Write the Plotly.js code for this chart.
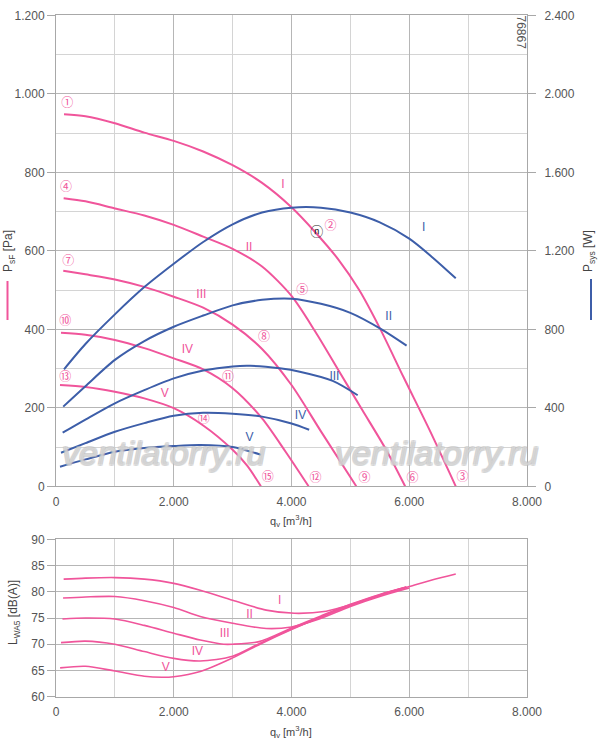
<!DOCTYPE html>
<html>
<head>
<meta charset="utf-8">
<script src="https://cdn.plot.ly/plotly-3.0.1.min.js"></script>
<style>
  body { margin: 0; background: #fff; }
  #chart { width: 600px; height: 747px; }
</style>
</head>
<body>
<div id="chart"></div>
<script>
// speed steps
var speeds = ['I', 'II', 'III', 'IV', 'V'];

// static pressure psF [Pa] vs flow qv [m3/h]
var pressQ = [
  [136, 500, 1000, 1500, 2000, 2500, 3000, 3500, 4000, 4400, 4800, 5150, 5500, 5900, 6340, 6790],
  [130, 500, 1000, 1500, 2000, 2500, 3000, 3500, 4000, 4400, 4800, 5200, 5600, 5930],
  [123, 500, 1000, 1500, 2000, 2500, 3000, 3500, 4000, 4500, 5100],
  [85, 500, 1000, 1500, 2000, 2500, 3000, 3500, 3900, 4290],
  [68, 500, 1000, 1500, 2000, 2500, 3000, 3250, 3480]
];
var pressPa = [
  [948, 943, 925, 901, 880, 853, 818, 773, 711, 648, 577, 500, 403, 279, 145, 0],
  [734, 726, 708, 690, 666, 636, 605, 560, 485, 395, 295, 195, 95, 0],
  [549, 540, 527, 508, 483, 455, 412, 350, 258, 140, 0],
  [391, 386, 373, 352, 326, 298, 250, 173, 88, 0],
  [258, 253, 241, 224, 199, 155, 93, 52, 0]
];

// power input Psys [W]
var powQ = [
  [136, 500, 1000, 1500, 2000, 2500, 3000, 3500, 4000, 4500, 5000, 5500, 6000, 6400, 6790],
  [123, 500, 1000, 1500, 2000, 2500, 3000, 3500, 4000, 4500, 5000, 5530, 5955],
  [113, 500, 1000, 1500, 2000, 2500, 3000, 3300, 3800, 4140, 4700, 5124],
  [85, 500, 1000, 1500, 2000, 2500, 3000, 3500, 4000, 4300],
  [68, 500, 1000, 1500, 2000, 2450, 3000, 3485]
];
var powW = [
  [596, 725, 876, 1015, 1134, 1245, 1335, 1395, 1420, 1420, 1395, 1345, 1262, 1165, 1060],
  [406, 510, 644, 740, 813, 870, 922, 950, 956, 930, 884, 800, 717],
  [273, 340, 423, 490, 550, 590, 611, 614, 601, 584, 537, 464],
  [171, 220, 278, 322, 360, 375, 370, 355, 320, 288],
  [100, 137, 176, 195, 205, 210, 200, 160]
];

// sound power LWA5 [dB(A)]
var noiseQ = [
  [130, 500, 1000, 1500, 2000, 2450, 3000, 3570, 4050, 4590, 5000, 5500, 6000, 6400, 6790],
  [120, 500, 1000, 1500, 2000, 2450, 3000, 3570, 4000, 4420, 5000, 5500, 6000],
  [110, 500, 1000, 1500, 2000, 2450, 2850, 3000, 3450, 4000, 4500, 5000, 5500, 5950],
  [85, 500, 1000, 1500, 2000, 2450, 3000, 3450, 4000, 4500, 5000, 5500, 5950],
  [70, 500, 1000, 1500, 1800, 2000, 2450, 3000, 3500, 4000, 4500, 5000, 5500, 5950]
];
var noiseDb = [
  [82.4, 82.6, 82.7, 82.4, 81.6, 80.3, 78.4, 76.5, 75.9, 76.3, 77.5, 79.4, 81.0, 82.3, 83.4],
  [78.8, 79.0, 79.1, 78.3, 77.0, 75.3, 74.0, 73.0, 73.3, 74.6, 77.2, 79.1, 80.7],
  [74.8, 75.0, 74.8, 73.6, 72.1, 70.8, 70.0, 70.0, 70.5, 73.1, 75.4, 77.6, 79.5, 80.9],
  [70.3, 70.6, 70.0, 68.6, 67.3, 66.8, 67.7, 70.1, 72.9, 75.2, 77.5, 79.4, 80.9],
  [65.5, 65.8, 64.9, 63.9, 63.7, 63.8, 64.8, 67.4, 70.2, 72.8, 75.2, 77.4, 79.3, 80.8]
];

// operating point markers (circled numbers)
var opText = ['①', '②', '③', '④', '⑤', '⑥', '⑦', '⑧', '⑨', '⑩', '⑪', '⑫', '⑬', '⑭', '⑮'];
var opQ = [192, 4661, 6904, 170, 4182, 6056, 208, 3531, 5238, 158, 2920, 4407, 158, 2509, 3598];
var opPa = [974, 661, 20, 759, 498, 18, 571, 379, 18, 418, 277, 18, 277, 169, 20];

// speed label positions
var pressLabQ = [3853, 3280, 2469, 2232, 1848];
var pressLabPa = [768, 606, 487, 347, 235];
var powLabQ = [6243, 5650, 4729, 4153, 3288];
var powLabW = [1318, 864, 558, 358, 248];
var noiseLabQ = [3797, 3288, 2865, 2401, 1865];
var noiseLabDb = [78.3, 75.6, 71.9, 68.6, 65.55];

var PINK = '#f0559b';
var BLUE = '#3d5ea9';
var GRID = '#b6b6b6';
var GRIDMINOR = '#d4d4d4';
var LINE = '#a8a8a8';
var FONT = 'Liberation Sans, Arial, sans-serif';

var W = 600, H = 747;
function px(x) { return x / W; }
function py(y) { return 1 - y / H; }

var data = [];
speeds.forEach(function (s, i) {
  data.push({
    name: 'psF ' + s, x: pressQ[i], y: pressPa[i],
    xaxis: 'x', yaxis: 'y', mode: 'lines', type: 'scatter',
    line: { color: PINK, width: 2, shape: 'spline', smoothing: 0.8 }
  });
});
speeds.forEach(function (s, i) {
  data.push({
    name: 'Psys ' + s, x: powQ[i], y: powW[i],
    xaxis: 'x', yaxis: 'y2', mode: 'lines', type: 'scatter',
    line: { color: BLUE, width: 2, shape: 'spline', smoothing: 0.8 }
  });
});
speeds.forEach(function (s, i) {
  data.push({
    name: 'LWA5 ' + s, x: noiseQ[i], y: noiseDb[i],
    xaxis: 'x2', yaxis: 'y3', mode: 'lines', type: 'scatter',
    line: { color: PINK, width: 1.6, shape: 'spline', smoothing: 0.8 }
  });
});
// circled operating points
data.push({
  x: opQ, y: opPa, text: opText, xaxis: 'x', yaxis: 'y',
  mode: 'text', type: 'scatter', textposition: 'middle center',
  textfont: { family: 'Noto Sans CJK JP', size: 12, color: PINK }
});
data.push({
  x: [4429], y: [645], text: ['ⓝ'], xaxis: 'x', yaxis: 'y',
  mode: 'text', type: 'scatter', textposition: 'middle center',
  textfont: { family: 'Noto Sans CJK JP', size: 13, color: '#222' }
});
var labFont = function (c) { return { family: 'Liberation Sans Narrow, Liberation Sans, Arial', size: 12, color: c }; };
data.push({ x: pressLabQ, y: pressLabPa, text: speeds, xaxis: 'x', yaxis: 'y', mode: 'text', type: 'scatter', textfont: labFont(PINK) });
data.push({ x: powLabQ, y: powLabW, text: speeds, xaxis: 'x', yaxis: 'y2', mode: 'text', type: 'scatter', textfont: labFont(BLUE) });
data.push({ x: noiseLabQ, y: noiseLabDb, text: speeds, xaxis: 'x2', yaxis: 'y3', mode: 'text', type: 'scatter', textfont: labFont(PINK) });

var tickFont = { family: FONT, size: 12, color: '#555' };

function xAxis(anchor) {
  return {
    domain: [px(56), px(527)], anchor: anchor, range: [0, 8000], dtick: 2000,
    tickformat: ',d', showgrid: true, gridcolor: GRID, gridwidth: 1,
    minor: { dtick: 1000, showgrid: true, gridcolor: GRIDMINOR },
    showline: true, linecolor: LINE, mirror: true, zeroline: false,
    ticks: '', tickfont: tickFont, ticklabelstandoff: 4, fixedrange: true
  };
}

var wmShadow = '1px 0 0 #bdbdbd, -1px 0 0 #bdbdbd, 0 1px 0 #bdbdbd, 0 -1px 0 #bdbdbd, ' +
  '1px 1px 0 #bdbdbd, -1px -1px 0 #bdbdbd, 1px -1px 0 #bdbdbd, -1px 1px 0 #bdbdbd';
var wmFont = { family: FONT, size: 34, style: 'italic', color: 'rgba(255,255,255,0.3)', shadow: wmShadow };

// paper-positioned text, always centred on the given pixel
function note(x, y, text, font, angle) {
  return { xref: 'paper', yref: 'paper', x: px(x), y: py(y), xanchor: 'center', yanchor: 'middle',
           text: text, showarrow: false, font: font, textangle: angle || 0 };
}
var titleFont = { family: FONT, size: 12, color: '#444' };
var qFont = { family: FONT, size: 11, color: '#444' };

var layout = {
  width: W, height: H,
  margin: { l: 0, r: 0, t: 0, b: 0 },
  paper_bgcolor: '#fff', plot_bgcolor: '#fff',
  showlegend: false, hovermode: false,
  separators: ',.',
  xaxis: xAxis('y'),
  xaxis2: xAxis('y3'),
  yaxis: {
    domain: [py(486.3), py(15.3)], anchor: 'x', range: [0, 1200], dtick: 200,
    tickformat: ',d', showgrid: true, gridcolor: GRID,
    minor: { dtick: 100, showgrid: true, gridcolor: GRIDMINOR },
    showline: true, linecolor: LINE, mirror: true, zeroline: false,
    ticks: 'outside', ticklen: 8, tickcolor: LINE, tickfont: tickFont, fixedrange: true
  },
  yaxis2: {
    overlaying: 'y', anchor: 'x', side: 'right', range: [0, 2400], dtick: 400,
    tickformat: ',d', showgrid: false, zeroline: false, showline: false,
    ticks: 'outside', ticklen: 8, tickcolor: LINE, tickfont: tickFont,
    ticklabelstandoff: 6, fixedrange: true
  },
  yaxis3: {
    domain: [py(696.7), py(539.3)], anchor: 'x2', range: [60, 90], dtick: 5,
    showgrid: true, gridcolor: GRID,
    showline: true, linecolor: LINE, mirror: true, zeroline: false,
    ticks: 'outside', ticklen: 8, tickcolor: LINE, tickfont: tickFont, fixedrange: true
  },
  shapes: [
    { type: 'line', xref: 'paper', yref: 'paper', x0: px(7.5), x1: px(7.5), y0: py(281), y1: py(320), line: { color: PINK, width: 2 } },
    { type: 'line', xref: 'paper', yref: 'paper', x0: px(591), x1: px(591), y0: py(279), y1: py(320), line: { color: BLUE, width: 2 } }
  ],
  annotations: [
    note(291, 521, 'q<sub>v</sub> [m<sup>3</sup>/h]', qFont),
    note(291, 732, 'q<sub>v</sub> [m<sup>3</sup>/h]', qFont),
    note(9, 251, 'P<sub>sF</sub> [Pa]', titleFont, -90),
    note(589, 251, 'P<sub>sys</sub> [W]', titleFont, -90),
    note(14, 613, 'L<sub>WA5</sub> [dB(A)]', titleFont, -90),
    note(520.5, 32, '76867', { family: FONT, size: 12, color: '#555' }, 90),
    note(164, 453, 'ventilatorry.ru', wmFont),
    note(437, 453, 'ventilatorry.ru', wmFont)
  ]
};

Plotly.newPlot('chart', data, layout, { staticPlot: true, displayModeBar: false });
</script>
</body>
</html>
